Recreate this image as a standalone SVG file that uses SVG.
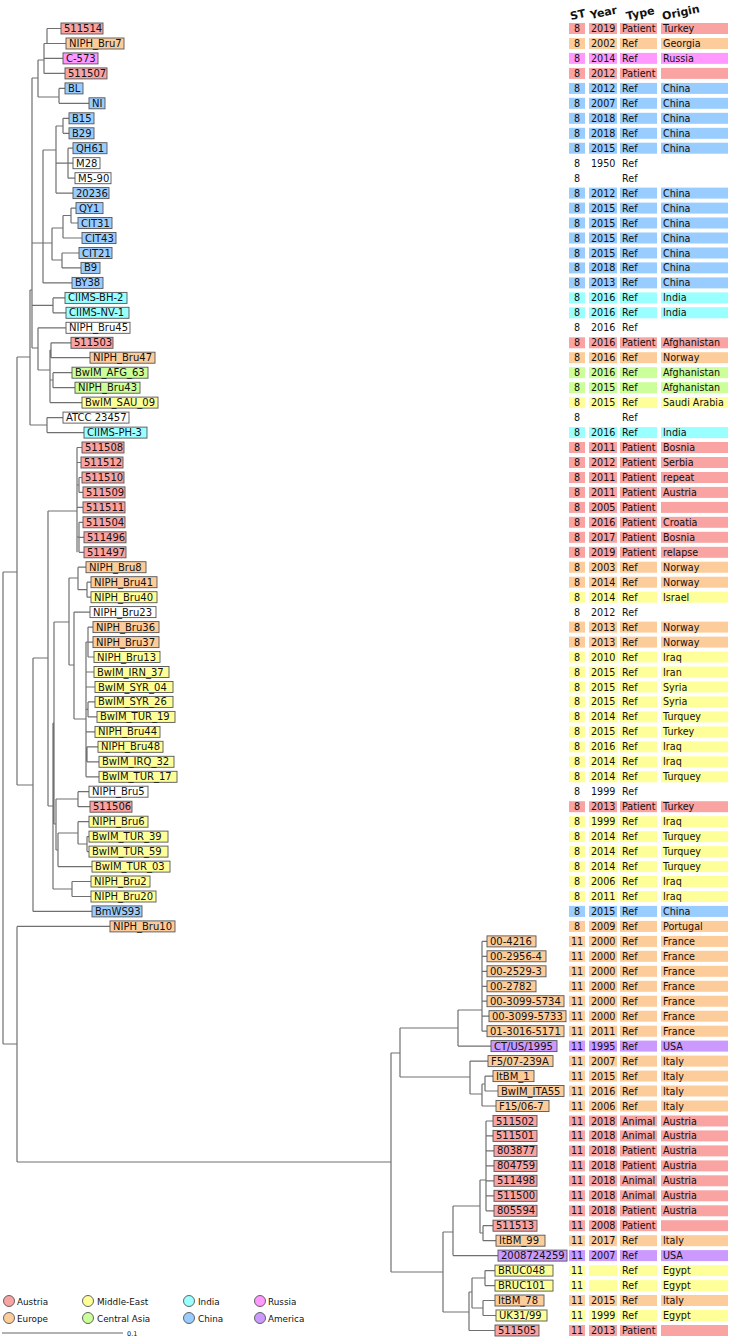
<svg xmlns="http://www.w3.org/2000/svg" xmlns:xlink="http://www.w3.org/1999/xlink" width="730" height="1339" viewBox="0 0 730 1339">
<style>
text{font-family:"DejaVu Sans","Liberation Sans",sans-serif;fill:#111}
.lb text{font-size:10px}
.lb rect{stroke:#555;stroke-width:0.9}
.tb text{font-size:9.6px}
.st{text-anchor:middle}
.au{fill:#f9a3a3}.eu{fill:#fdcc9b}.me{fill:#ffff99}.ca{fill:#ccff99}.in{fill:#99ffff}.cn{fill:#99ccff}.ru{fill:#ff99ff}.am{fill:#cc99ff}.wh{fill:#ffffff}
#connectors path{fill:none;stroke:#707070;stroke-width:1.2}
.hd text{font-size:11px;font-weight:bold}
.lg text{font-size:8.8px}
.lg circle{stroke:#555;stroke-width:0.9}
</style>
<defs>
<g id="cells"><rect x="569" y="-5.5" width="16" height="11"/><rect x="589" y="-5.5" width="28" height="11"/><rect x="620" y="-5.5" width="37" height="11"/><rect x="661" y="-5.5" width="67" height="11"/></g>
</defs>
<rect width="730" height="1339" fill="#fff"/>
<g id="connectors">
<path d="M3,572V1044M3,572H17M3,1044H17M17,357V785M17,357H30M17,785H33M17,926.4V1162M17,926.4H110M17,1162H391M30,290V425M30,290H32M30,425H47M32,78V348M32,78H38M32,243H43M32,305.4H53M32,348H38M38,60V97M38,60H44M38,97H59M44,43.5V73.4M44,43.5H66M44,58.4H63M44,73.4H65M47,28.5V43.5M47,28.5H61M59,88.4V103.3M59,88.4H65M59,103.3H89M43,150V282.9M43,150H56M43,243H52M43,282.9H72M56,126V193.1M56,126H63M56,163.2H68M56,193.1H73M63,118.3V133.3M63,118.3H69M63,133.3H69M68,148.2V178.2M68,148.2H73M68,163.2H73M68,178.2H75M52,228V260M52,228H63M52,260H62M63,215.5V238M63,215.5H71M63,238H82M71,208.1V223M71,208.1H76M71,223H78M62,253V267.9M62,253H79M62,267.9H81M53,297.9V312.8M53,297.9H65M53,312.8H66M38,327.8V370M38,327.8H66M38,370H50M50,350V402.6M50,350H51M50,380H53M50,402.6H82M51,342.8V357.7M51,342.8H71M51,357.7H90M53,372.7V387.7M53,372.7H72M53,387.7H75M47,417.6V432.6M47,417.6H63M47,432.6H84"/>
<path d="M33,658V911.4M33,658H48M33,911.4H92M48,511V806M48,511H77M48,806H53M77,447.5V552.3M77,447.5H82M77,462.5H81M77,485H79M77,507.4H83M77,537H79M79,477.5V492.4M79,477.5H82M79,492.4H83M79,522.3V552.3M79,522.3H83M79,537.3H84M79,552.3H84M53,723V889M53,723H54M53,889H72M72,881.5V896.5M72,881.5H91M72,896.5H91M54,622V824M54,622H69M54,824H56M56,799V850M56,799H78M56,850H58M78,791.7V806.7M78,791.7H89M78,806.7H90M58,833V866.6M58,833H78M58,866.6H92M78,821.7V844M78,821.7H89M78,844H87M87,836.6V851.6M87,836.6H89M87,851.6H89M69,578V665M69,578H78M69,665H74M78,567.2V589.7M78,567.2H86M78,589.7H87M87,582.2V597.2M87,582.2H91M87,597.2H91M74,612.1V719M74,612.1H90M74,719H86M86,642V776.8M86,642H88M86,672H94M86,687H95M86,709.4H88M86,731.9H95M86,754.3H87M86,776.8H99M88,627.1V657M88,627.1H93M88,642.1H93M88,657H94M88,701.9V716.9M88,701.9H95M88,716.9H97M87,746.8V761.8M87,746.8H98M87,761.8H99"/>
<path d="M391,1053V1272M391,1053H400M391,1272H443M400,1028V1077M400,1028H458M400,1077H470M458,1010V1046.1M458,1010H482M458,1046.1H491M482,941.4V1031.2M482,941.4H487M482,956.3H487M482,971.3H487M482,986.3H487M482,1001.2H487M482,1016.2H489M482,1031.2H487M470,1061.1V1094M470,1061.1H488M470,1094H482M482,1084V1106M482,1084H485M482,1106H496M485,1076.1V1091M485,1076.1H493M485,1091H498M443,1232V1312M443,1232H453M443,1312H469M453,1206V1255.6M453,1206H480M453,1255.6H498M480,1180V1233M480,1180H486M480,1233H483M486,1121V1210.8M486,1121H493M486,1135.9H493M486,1150.9H494M486,1165.9H494M486,1180.8H494M486,1195.8H494M486,1210.8H494M483,1225.7V1240.7M483,1225.7H493M483,1240.7H496M469,1292V1330.5M469,1292H472M469,1330.5H495M472,1278V1308M472,1278H485M472,1308H483M485,1270.6V1285.6M485,1270.6H495M485,1285.6H495M483,1300.5V1315.5M483,1300.5H495M483,1315.5H496"/>
</g>
<g class="lb">
<g id="n1"><rect class="au" x="61" y="23" width="42" height="11"/><text x="64" y="32">511514</text></g>
<g id="n2"><rect class="eu" x="66" y="38" width="58" height="11"/><text x="69" y="47">NIPH_Bru7</text></g>
<g id="n3"><rect class="ru" x="63" y="52.9" width="35" height="11"/><text x="66" y="61.9">C-573</text></g>
<g id="n4"><rect class="au" x="65" y="67.9" width="42" height="11"/><text x="68" y="76.9">511507</text></g>
<g id="n5"><rect class="cn" x="65" y="82.9" width="18" height="11"/><text x="68" y="91.9">BL</text></g>
<g id="n6"><rect class="cn" x="89" y="97.8" width="16" height="11"/><text x="92" y="106.8">NI</text></g>
<g id="n7"><rect class="cn" x="69" y="112.8" width="25" height="11"/><text x="72" y="121.8">B15</text></g>
<g id="n8"><rect class="cn" x="69" y="127.8" width="25" height="11"/><text x="72" y="136.8">B29</text></g>
<g id="n9"><rect class="cn" x="73" y="142.7" width="34" height="11"/><text x="76" y="151.7">QH61</text></g>
<g id="n10"><rect class="wh" x="73" y="157.7" width="27" height="11"/><text x="76" y="166.7">M28</text></g>
<g id="n11"><rect class="wh" x="75" y="172.7" width="36" height="11"/><text x="78" y="181.7">M5-90</text></g>
<g id="n12"><rect class="cn" x="73" y="187.6" width="36" height="11"/><text x="76" y="196.6">20236</text></g>
<g id="n13"><rect class="cn" x="76" y="202.6" width="27" height="11"/><text x="79" y="211.6">QY1</text></g>
<g id="n14"><rect class="cn" x="78" y="217.5" width="34" height="11"/><text x="81" y="226.5">CIT31</text></g>
<g id="n15"><rect class="cn" x="82" y="232.5" width="34" height="11"/><text x="85" y="241.5">CIT43</text></g>
<g id="n16"><rect class="cn" x="79" y="247.5" width="33" height="11"/><text x="82" y="256.5">CIT21</text></g>
<g id="n17"><rect class="cn" x="81" y="262.4" width="19" height="11"/><text x="84" y="271.4">B9</text></g>
<g id="n18"><rect class="cn" x="72" y="277.4" width="31" height="11"/><text x="75" y="286.4">BY38</text></g>
<g id="n19"><rect class="in" x="65" y="292.4" width="62" height="11"/><text x="68" y="301.4">CIIMS-BH-2</text></g>
<g id="n20"><rect class="in" x="66" y="307.3" width="63" height="11"/><text x="69" y="316.3">CIIMS-NV-1</text></g>
<g id="n21"><rect class="wh" x="66" y="322.3" width="64" height="11"/><text x="69" y="331.3">NIPH_Bru45</text></g>
<g id="n22"><rect class="au" x="71" y="337.3" width="42" height="11"/><text x="74" y="346.3">511503</text></g>
<g id="n23"><rect class="eu" x="90" y="352.2" width="65" height="11"/><text x="93" y="361.2">NIPH_Bru47</text></g>
<g id="n24"><rect class="ca" x="72" y="367.2" width="76" height="11"/><text x="75" y="376.2">BwIM_AFG_63</text></g>
<g id="n25"><rect class="ca" x="75" y="382.2" width="65" height="11"/><text x="78" y="391.2">NIPH_Bru43</text></g>
<g id="n26"><rect class="me" x="82" y="397.1" width="76" height="11"/><text x="85" y="406.1">BwIM_SAU_09</text></g>
<g id="n27"><rect class="wh" x="63" y="412.1" width="66" height="11"/><text x="66" y="421.1">ATCC 23457</text></g>
<g id="n28"><rect class="in" x="84" y="427.1" width="63" height="11"/><text x="87" y="436.1">CIIMS-PH-3</text></g>
<g id="n29"><rect class="au" x="82" y="442" width="42" height="11"/><text x="85" y="451">511508</text></g>
<g id="n30"><rect class="au" x="81" y="457" width="42" height="11"/><text x="84" y="466">511512</text></g>
<g id="n31"><rect class="au" x="82" y="472" width="42" height="11"/><text x="85" y="481">511510</text></g>
<g id="n32"><rect class="au" x="83" y="486.9" width="42" height="11"/><text x="86" y="495.9">511509</text></g>
<g id="n33"><rect class="au" x="83" y="501.9" width="42" height="11"/><text x="86" y="510.9">511511</text></g>
<g id="n34"><rect class="au" x="83" y="516.8" width="42" height="11"/><text x="86" y="525.8">511504</text></g>
<g id="n35"><rect class="au" x="84" y="531.8" width="42" height="11"/><text x="87" y="540.8">511496</text></g>
<g id="n36"><rect class="au" x="84" y="546.8" width="42" height="11"/><text x="87" y="555.8">511497</text></g>
<g id="n37"><rect class="eu" x="86" y="561.7" width="60" height="11"/><text x="89" y="570.7">NIPH_Bru8</text></g>
<g id="n38"><rect class="eu" x="91" y="576.7" width="66" height="11"/><text x="94" y="585.7">NIPH_Bru41</text></g>
<g id="n39"><rect class="me" x="91" y="591.7" width="66" height="11"/><text x="94" y="600.7">NIPH_Bru40</text></g>
<g id="n40"><rect class="wh" x="90" y="606.6" width="66" height="11"/><text x="93" y="615.6">NIPH_Bru23</text></g>
<g id="n41"><rect class="eu" x="93" y="621.6" width="66" height="11"/><text x="96" y="630.6">NIPH_Bru36</text></g>
<g id="n42"><rect class="eu" x="93" y="636.6" width="66" height="11"/><text x="96" y="645.6">NIPH_Bru37</text></g>
<g id="n43"><rect class="me" x="94" y="651.5" width="66" height="11"/><text x="97" y="660.5">NIPH_Bru13</text></g>
<g id="n44"><rect class="me" x="94" y="666.5" width="75" height="11"/><text x="97" y="675.5">BwIM_IRN_37</text></g>
<g id="n45"><rect class="me" x="95" y="681.5" width="78" height="11"/><text x="98" y="690.5">BwIM_SYR_04</text></g>
<g id="n46"><rect class="me" x="95" y="696.4" width="78" height="11"/><text x="98" y="705.4">BwIM_SYR_26</text></g>
<g id="n47"><rect class="me" x="97" y="711.4" width="78" height="11"/><text x="100" y="720.4">BwIM_TUR_19</text></g>
<g id="n48"><rect class="me" x="95" y="726.4" width="65" height="11"/><text x="98" y="735.4">NIPH_Bru44</text></g>
<g id="n49"><rect class="me" x="98" y="741.3" width="65" height="11"/><text x="101" y="750.3">NIPH_Bru48</text></g>
<g id="n50"><rect class="me" x="99" y="756.3" width="75" height="11"/><text x="102" y="765.3">BwIM_IRQ_32</text></g>
<g id="n51"><rect class="me" x="99" y="771.3" width="78" height="11"/><text x="102" y="780.3">BwIM_TUR_17</text></g>
<g id="n52"><rect class="wh" x="89" y="786.2" width="59" height="11"/><text x="92" y="795.2">NIPH_Bru5</text></g>
<g id="n53"><rect class="au" x="90" y="801.2" width="42" height="11"/><text x="93" y="810.2">511506</text></g>
<g id="n54"><rect class="me" x="89" y="816.2" width="59" height="11"/><text x="92" y="825.2">NIPH_Bru6</text></g>
<g id="n55"><rect class="me" x="89" y="831.1" width="79" height="11"/><text x="92" y="840.1">BwIM_TUR_39</text></g>
<g id="n56"><rect class="me" x="89" y="846.1" width="79" height="11"/><text x="92" y="855.1">BwIM_TUR_59</text></g>
<g id="n57"><rect class="me" x="92" y="861.1" width="78" height="11"/><text x="95" y="870.1">BwIM_TUR_03</text></g>
<g id="n58"><rect class="me" x="91" y="876" width="59" height="11"/><text x="94" y="885">NIPH_Bru2</text></g>
<g id="n59"><rect class="me" x="91" y="891" width="65" height="11"/><text x="94" y="900">NIPH_Bru20</text></g>
<g id="n60"><rect class="cn" x="92" y="905.9" width="50" height="11"/><text x="95" y="914.9">BmWS93</text></g>
<g id="n61"><rect class="eu" x="110" y="920.9" width="65" height="11"/><text x="113" y="929.9">NIPH_Bru10</text></g>
<g id="n62"><rect class="eu" x="487" y="935.9" width="49" height="11"/><text x="490" y="944.9">00-4216</text></g>
<g id="n63"><rect class="eu" x="487" y="950.8" width="59" height="11"/><text x="490" y="959.8">00-2956-4</text></g>
<g id="n64"><rect class="eu" x="487" y="965.8" width="59" height="11"/><text x="490" y="974.8">00-2529-3</text></g>
<g id="n65"><rect class="eu" x="487" y="980.8" width="49" height="11"/><text x="490" y="989.8">00-2782</text></g>
<g id="n66"><rect class="eu" x="487" y="995.7" width="77" height="11"/><text x="490" y="1004.7">00-3099-5734</text></g>
<g id="n67"><rect class="eu" x="489" y="1010.7" width="77" height="11"/><text x="492" y="1019.7">00-3099-5733</text></g>
<g id="n68"><rect class="eu" x="487" y="1025.7" width="77" height="11"/><text x="490" y="1034.7">01-3016-5171</text></g>
<g id="n69"><rect class="am" x="491" y="1040.6" width="66" height="11"/><text x="494" y="1049.6">CT/US/1995</text></g>
<g id="n70"><rect class="eu" x="488" y="1055.6" width="65" height="11"/><text x="491" y="1064.6">F5/07-239A</text></g>
<g id="n71"><rect class="eu" x="493" y="1070.6" width="41" height="11"/><text x="496" y="1079.6">ItBM_1</text></g>
<g id="n72"><rect class="eu" x="498" y="1085.5" width="66" height="11"/><text x="501" y="1094.5">BwIM_ITA55</text></g>
<g id="n73"><rect class="eu" x="496" y="1100.5" width="53" height="11"/><text x="499" y="1109.5">F15/06-7</text></g>
<g id="n74"><rect class="au" x="493" y="1115.5" width="44" height="11"/><text x="496" y="1124.5">511502</text></g>
<g id="n75"><rect class="au" x="493" y="1130.4" width="44" height="11"/><text x="496" y="1139.4">511501</text></g>
<g id="n76"><rect class="au" x="494" y="1145.4" width="43" height="11"/><text x="497" y="1154.4">803877</text></g>
<g id="n77"><rect class="au" x="494" y="1160.4" width="43" height="11"/><text x="497" y="1169.4">804759</text></g>
<g id="n78"><rect class="au" x="494" y="1175.3" width="43" height="11"/><text x="497" y="1184.3">511498</text></g>
<g id="n79"><rect class="au" x="494" y="1190.3" width="43" height="11"/><text x="497" y="1199.3">511500</text></g>
<g id="n80"><rect class="au" x="494" y="1205.3" width="43" height="11"/><text x="497" y="1214.3">805594</text></g>
<g id="n81"><rect class="au" x="493" y="1220.2" width="44" height="11"/><text x="496" y="1229.2">511513</text></g>
<g id="n82"><rect class="eu" x="496" y="1235.2" width="49" height="11"/><text x="499" y="1244.2">ItBM_99</text></g>
<g id="n83"><rect class="am" x="498" y="1250.1" width="69" height="11"/><text x="501" y="1259.1">2008724259</text></g>
<g id="n84"><rect class="me" x="495" y="1265.1" width="58" height="11"/><text x="498" y="1274.1">BRUC048</text></g>
<g id="n85"><rect class="me" x="495" y="1280.1" width="58" height="11"/><text x="498" y="1289.1">BRUC101</text></g>
<g id="n86"><rect class="eu" x="495" y="1295" width="49" height="11"/><text x="498" y="1304">ItBM_78</text></g>
<g id="n87"><rect class="me" x="496" y="1310" width="51" height="11"/><text x="499" y="1319">UK31/99</text></g>
<g id="n88"><rect class="au" x="495" y="1325" width="44" height="11"/><text x="498" y="1334">511505</text></g>
</g>
<g class="hd" id="header">
<text transform="translate(571,20) rotate(-12)">ST</text>
<text transform="translate(591,19) rotate(-12)">Year</text>
<text transform="translate(627,20) rotate(-12)">Type</text>
<text transform="translate(663,20) rotate(-12)">Origin</text>
</g>
<g class="tb" id="table">
<use href="#cells" y="28.5" class="au"/><text class="st" x="577" y="32">8</text><text y="32"><tspan x="591">2019</tspan><tspan x="622">Patient</tspan><tspan x="663">Turkey</tspan></text>
<use href="#cells" y="43.5" class="eu"/><text class="st" x="577" y="47">8</text><text y="47"><tspan x="591">2002</tspan><tspan x="622">Ref</tspan><tspan x="663">Georgia</tspan></text>
<use href="#cells" y="58.4" class="ru"/><text class="st" x="577" y="61.9">8</text><text y="61.9"><tspan x="591">2014</tspan><tspan x="622">Ref</tspan><tspan x="663">Russia</tspan></text>
<use href="#cells" y="73.4" class="au"/><text class="st" x="577" y="76.9">8</text><text y="76.9"><tspan x="591">2012</tspan><tspan x="622">Patient</tspan></text>
<use href="#cells" y="88.4" class="cn"/><text class="st" x="577" y="91.9">8</text><text y="91.9"><tspan x="591">2012</tspan><tspan x="622">Ref</tspan><tspan x="663">China</tspan></text>
<use href="#cells" y="103.3" class="cn"/><text class="st" x="577" y="106.8">8</text><text y="106.8"><tspan x="591">2007</tspan><tspan x="622">Ref</tspan><tspan x="663">China</tspan></text>
<use href="#cells" y="118.3" class="cn"/><text class="st" x="577" y="121.8">8</text><text y="121.8"><tspan x="591">2018</tspan><tspan x="622">Ref</tspan><tspan x="663">China</tspan></text>
<use href="#cells" y="133.3" class="cn"/><text class="st" x="577" y="136.8">8</text><text y="136.8"><tspan x="591">2018</tspan><tspan x="622">Ref</tspan><tspan x="663">China</tspan></text>
<use href="#cells" y="148.2" class="cn"/><text class="st" x="577" y="151.7">8</text><text y="151.7"><tspan x="591">2015</tspan><tspan x="622">Ref</tspan><tspan x="663">China</tspan></text>
<text class="st" x="577" y="166.7">8</text><text y="166.7"><tspan x="591">1950</tspan><tspan x="622">Ref</tspan></text>
<text class="st" x="577" y="181.7">8</text><text y="181.7"><tspan x="622">Ref</tspan></text>
<use href="#cells" y="193.1" class="cn"/><text class="st" x="577" y="196.6">8</text><text y="196.6"><tspan x="591">2012</tspan><tspan x="622">Ref</tspan><tspan x="663">China</tspan></text>
<use href="#cells" y="208.1" class="cn"/><text class="st" x="577" y="211.6">8</text><text y="211.6"><tspan x="591">2015</tspan><tspan x="622">Ref</tspan><tspan x="663">China</tspan></text>
<use href="#cells" y="223" class="cn"/><text class="st" x="577" y="226.5">8</text><text y="226.5"><tspan x="591">2015</tspan><tspan x="622">Ref</tspan><tspan x="663">China</tspan></text>
<use href="#cells" y="238" class="cn"/><text class="st" x="577" y="241.5">8</text><text y="241.5"><tspan x="591">2015</tspan><tspan x="622">Ref</tspan><tspan x="663">China</tspan></text>
<use href="#cells" y="253" class="cn"/><text class="st" x="577" y="256.5">8</text><text y="256.5"><tspan x="591">2015</tspan><tspan x="622">Ref</tspan><tspan x="663">China</tspan></text>
<use href="#cells" y="267.9" class="cn"/><text class="st" x="577" y="271.4">8</text><text y="271.4"><tspan x="591">2018</tspan><tspan x="622">Ref</tspan><tspan x="663">China</tspan></text>
<use href="#cells" y="282.9" class="cn"/><text class="st" x="577" y="286.4">8</text><text y="286.4"><tspan x="591">2013</tspan><tspan x="622">Ref</tspan><tspan x="663">China</tspan></text>
<use href="#cells" y="297.9" class="in"/><text class="st" x="577" y="301.4">8</text><text y="301.4"><tspan x="591">2016</tspan><tspan x="622">Ref</tspan><tspan x="663">India</tspan></text>
<use href="#cells" y="312.8" class="in"/><text class="st" x="577" y="316.3">8</text><text y="316.3"><tspan x="591">2016</tspan><tspan x="622">Ref</tspan><tspan x="663">India</tspan></text>
<text class="st" x="577" y="331.3">8</text><text y="331.3"><tspan x="591">2016</tspan><tspan x="622">Ref</tspan></text>
<use href="#cells" y="342.8" class="au"/><text class="st" x="577" y="346.3">8</text><text y="346.3"><tspan x="591">2016</tspan><tspan x="622">Patient</tspan><tspan x="663">Afghanistan</tspan></text>
<use href="#cells" y="357.7" class="eu"/><text class="st" x="577" y="361.2">8</text><text y="361.2"><tspan x="591">2016</tspan><tspan x="622">Ref</tspan><tspan x="663">Norway</tspan></text>
<use href="#cells" y="372.7" class="ca"/><text class="st" x="577" y="376.2">8</text><text y="376.2"><tspan x="591">2016</tspan><tspan x="622">Ref</tspan><tspan x="663">Afghanistan</tspan></text>
<use href="#cells" y="387.7" class="ca"/><text class="st" x="577" y="391.2">8</text><text y="391.2"><tspan x="591">2015</tspan><tspan x="622">Ref</tspan><tspan x="663">Afghanistan</tspan></text>
<use href="#cells" y="402.6" class="me"/><text class="st" x="577" y="406.1">8</text><text y="406.1"><tspan x="591">2015</tspan><tspan x="622">Ref</tspan><tspan x="663">Saudi Arabia</tspan></text>
<text class="st" x="577" y="421.1">8</text><text y="421.1"><tspan x="622">Ref</tspan></text>
<use href="#cells" y="432.6" class="in"/><text class="st" x="577" y="436.1">8</text><text y="436.1"><tspan x="591">2016</tspan><tspan x="622">Ref</tspan><tspan x="663">India</tspan></text>
<use href="#cells" y="447.5" class="au"/><text class="st" x="577" y="451">8</text><text y="451"><tspan x="591">2011</tspan><tspan x="622">Patient</tspan><tspan x="663">Bosnia</tspan></text>
<use href="#cells" y="462.5" class="au"/><text class="st" x="577" y="466">8</text><text y="466"><tspan x="591">2012</tspan><tspan x="622">Patient</tspan><tspan x="663">Serbia</tspan></text>
<use href="#cells" y="477.5" class="au"/><text class="st" x="577" y="481">8</text><text y="481"><tspan x="591">2011</tspan><tspan x="622">Patient</tspan><tspan x="663">repeat</tspan></text>
<use href="#cells" y="492.4" class="au"/><text class="st" x="577" y="495.9">8</text><text y="495.9"><tspan x="591">2011</tspan><tspan x="622">Patient</tspan><tspan x="663">Austria</tspan></text>
<use href="#cells" y="507.4" class="au"/><text class="st" x="577" y="510.9">8</text><text y="510.9"><tspan x="591">2005</tspan><tspan x="622">Patient</tspan></text>
<use href="#cells" y="522.3" class="au"/><text class="st" x="577" y="525.8">8</text><text y="525.8"><tspan x="591">2016</tspan><tspan x="622">Patient</tspan><tspan x="663">Croatia</tspan></text>
<use href="#cells" y="537.3" class="au"/><text class="st" x="577" y="540.8">8</text><text y="540.8"><tspan x="591">2017</tspan><tspan x="622">Patient</tspan><tspan x="663">Bosnia</tspan></text>
<use href="#cells" y="552.3" class="au"/><text class="st" x="577" y="555.8">8</text><text y="555.8"><tspan x="591">2019</tspan><tspan x="622">Patient</tspan><tspan x="663">relapse</tspan></text>
<use href="#cells" y="567.2" class="eu"/><text class="st" x="577" y="570.7">8</text><text y="570.7"><tspan x="591">2003</tspan><tspan x="622">Ref</tspan><tspan x="663">Norway</tspan></text>
<use href="#cells" y="582.2" class="eu"/><text class="st" x="577" y="585.7">8</text><text y="585.7"><tspan x="591">2014</tspan><tspan x="622">Ref</tspan><tspan x="663">Norway</tspan></text>
<use href="#cells" y="597.2" class="me"/><text class="st" x="577" y="600.7">8</text><text y="600.7"><tspan x="591">2014</tspan><tspan x="622">Ref</tspan><tspan x="663">Israel</tspan></text>
<text class="st" x="577" y="615.6">8</text><text y="615.6"><tspan x="591">2012</tspan><tspan x="622">Ref</tspan></text>
<use href="#cells" y="627.1" class="eu"/><text class="st" x="577" y="630.6">8</text><text y="630.6"><tspan x="591">2013</tspan><tspan x="622">Ref</tspan><tspan x="663">Norway</tspan></text>
<use href="#cells" y="642.1" class="eu"/><text class="st" x="577" y="645.6">8</text><text y="645.6"><tspan x="591">2013</tspan><tspan x="622">Ref</tspan><tspan x="663">Norway</tspan></text>
<use href="#cells" y="657" class="me"/><text class="st" x="577" y="660.5">8</text><text y="660.5"><tspan x="591">2010</tspan><tspan x="622">Ref</tspan><tspan x="663">Iraq</tspan></text>
<use href="#cells" y="672" class="me"/><text class="st" x="577" y="675.5">8</text><text y="675.5"><tspan x="591">2015</tspan><tspan x="622">Ref</tspan><tspan x="663">Iran</tspan></text>
<use href="#cells" y="687" class="me"/><text class="st" x="577" y="690.5">8</text><text y="690.5"><tspan x="591">2015</tspan><tspan x="622">Ref</tspan><tspan x="663">Syria</tspan></text>
<use href="#cells" y="701.9" class="me"/><text class="st" x="577" y="705.4">8</text><text y="705.4"><tspan x="591">2015</tspan><tspan x="622">Ref</tspan><tspan x="663">Syria</tspan></text>
<use href="#cells" y="716.9" class="me"/><text class="st" x="577" y="720.4">8</text><text y="720.4"><tspan x="591">2014</tspan><tspan x="622">Ref</tspan><tspan x="663">Turquey</tspan></text>
<use href="#cells" y="731.9" class="me"/><text class="st" x="577" y="735.4">8</text><text y="735.4"><tspan x="591">2015</tspan><tspan x="622">Ref</tspan><tspan x="663">Turkey</tspan></text>
<use href="#cells" y="746.8" class="me"/><text class="st" x="577" y="750.3">8</text><text y="750.3"><tspan x="591">2016</tspan><tspan x="622">Ref</tspan><tspan x="663">Iraq</tspan></text>
<use href="#cells" y="761.8" class="me"/><text class="st" x="577" y="765.3">8</text><text y="765.3"><tspan x="591">2014</tspan><tspan x="622">Ref</tspan><tspan x="663">Iraq</tspan></text>
<use href="#cells" y="776.8" class="me"/><text class="st" x="577" y="780.3">8</text><text y="780.3"><tspan x="591">2014</tspan><tspan x="622">Ref</tspan><tspan x="663">Turquey</tspan></text>
<text class="st" x="577" y="795.2">8</text><text y="795.2"><tspan x="591">1999</tspan><tspan x="622">Ref</tspan></text>
<use href="#cells" y="806.7" class="au"/><text class="st" x="577" y="810.2">8</text><text y="810.2"><tspan x="591">2013</tspan><tspan x="622">Patient</tspan><tspan x="663">Turkey</tspan></text>
<use href="#cells" y="821.7" class="me"/><text class="st" x="577" y="825.2">8</text><text y="825.2"><tspan x="591">1999</tspan><tspan x="622">Ref</tspan><tspan x="663">Iraq</tspan></text>
<use href="#cells" y="836.6" class="me"/><text class="st" x="577" y="840.1">8</text><text y="840.1"><tspan x="591">2014</tspan><tspan x="622">Ref</tspan><tspan x="663">Turquey</tspan></text>
<use href="#cells" y="851.6" class="me"/><text class="st" x="577" y="855.1">8</text><text y="855.1"><tspan x="591">2014</tspan><tspan x="622">Ref</tspan><tspan x="663">Turquey</tspan></text>
<use href="#cells" y="866.6" class="me"/><text class="st" x="577" y="870.1">8</text><text y="870.1"><tspan x="591">2014</tspan><tspan x="622">Ref</tspan><tspan x="663">Turquey</tspan></text>
<use href="#cells" y="881.5" class="me"/><text class="st" x="577" y="885">8</text><text y="885"><tspan x="591">2006</tspan><tspan x="622">Ref</tspan><tspan x="663">Iraq</tspan></text>
<use href="#cells" y="896.5" class="me"/><text class="st" x="577" y="900">8</text><text y="900"><tspan x="591">2011</tspan><tspan x="622">Ref</tspan><tspan x="663">Iraq</tspan></text>
<use href="#cells" y="911.4" class="cn"/><text class="st" x="577" y="914.9">8</text><text y="914.9"><tspan x="591">2015</tspan><tspan x="622">Ref</tspan><tspan x="663">China</tspan></text>
<use href="#cells" y="926.4" class="eu"/><text class="st" x="577" y="929.9">8</text><text y="929.9"><tspan x="591">2009</tspan><tspan x="622">Ref</tspan><tspan x="663">Portugal</tspan></text>
<use href="#cells" y="941.4" class="eu"/><text class="st" x="577" y="944.9">11</text><text y="944.9"><tspan x="591">2000</tspan><tspan x="622">Ref</tspan><tspan x="663">France</tspan></text>
<use href="#cells" y="956.3" class="eu"/><text class="st" x="577" y="959.8">11</text><text y="959.8"><tspan x="591">2000</tspan><tspan x="622">Ref</tspan><tspan x="663">France</tspan></text>
<use href="#cells" y="971.3" class="eu"/><text class="st" x="577" y="974.8">11</text><text y="974.8"><tspan x="591">2000</tspan><tspan x="622">Ref</tspan><tspan x="663">France</tspan></text>
<use href="#cells" y="986.3" class="eu"/><text class="st" x="577" y="989.8">11</text><text y="989.8"><tspan x="591">2000</tspan><tspan x="622">Ref</tspan><tspan x="663">France</tspan></text>
<use href="#cells" y="1001.2" class="eu"/><text class="st" x="577" y="1004.7">11</text><text y="1004.7"><tspan x="591">2000</tspan><tspan x="622">Ref</tspan><tspan x="663">France</tspan></text>
<use href="#cells" y="1016.2" class="eu"/><text class="st" x="577" y="1019.7">11</text><text y="1019.7"><tspan x="591">2000</tspan><tspan x="622">Ref</tspan><tspan x="663">France</tspan></text>
<use href="#cells" y="1031.2" class="eu"/><text class="st" x="577" y="1034.7">11</text><text y="1034.7"><tspan x="591">2011</tspan><tspan x="622">Ref</tspan><tspan x="663">France</tspan></text>
<use href="#cells" y="1046.1" class="am"/><text class="st" x="577" y="1049.6">11</text><text y="1049.6"><tspan x="591">1995</tspan><tspan x="622">Ref</tspan><tspan x="663">USA</tspan></text>
<use href="#cells" y="1061.1" class="eu"/><text class="st" x="577" y="1064.6">11</text><text y="1064.6"><tspan x="591">2007</tspan><tspan x="622">Ref</tspan><tspan x="663">Italy</tspan></text>
<use href="#cells" y="1076.1" class="eu"/><text class="st" x="577" y="1079.6">11</text><text y="1079.6"><tspan x="591">2015</tspan><tspan x="622">Ref</tspan><tspan x="663">Italy</tspan></text>
<use href="#cells" y="1091" class="eu"/><text class="st" x="577" y="1094.5">11</text><text y="1094.5"><tspan x="591">2016</tspan><tspan x="622">Ref</tspan><tspan x="663">Italy</tspan></text>
<use href="#cells" y="1106" class="eu"/><text class="st" x="577" y="1109.5">11</text><text y="1109.5"><tspan x="591">2006</tspan><tspan x="622">Ref</tspan><tspan x="663">Italy</tspan></text>
<use href="#cells" y="1121" class="au"/><text class="st" x="577" y="1124.5">11</text><text y="1124.5"><tspan x="591">2018</tspan><tspan x="622">Animal</tspan><tspan x="663">Austria</tspan></text>
<use href="#cells" y="1135.9" class="au"/><text class="st" x="577" y="1139.4">11</text><text y="1139.4"><tspan x="591">2018</tspan><tspan x="622">Animal</tspan><tspan x="663">Austria</tspan></text>
<use href="#cells" y="1150.9" class="au"/><text class="st" x="577" y="1154.4">11</text><text y="1154.4"><tspan x="591">2018</tspan><tspan x="622">Patient</tspan><tspan x="663">Austria</tspan></text>
<use href="#cells" y="1165.9" class="au"/><text class="st" x="577" y="1169.4">11</text><text y="1169.4"><tspan x="591">2018</tspan><tspan x="622">Patient</tspan><tspan x="663">Austria</tspan></text>
<use href="#cells" y="1180.8" class="au"/><text class="st" x="577" y="1184.3">11</text><text y="1184.3"><tspan x="591">2018</tspan><tspan x="622">Animal</tspan><tspan x="663">Austria</tspan></text>
<use href="#cells" y="1195.8" class="au"/><text class="st" x="577" y="1199.3">11</text><text y="1199.3"><tspan x="591">2018</tspan><tspan x="622">Animal</tspan><tspan x="663">Austria</tspan></text>
<use href="#cells" y="1210.8" class="au"/><text class="st" x="577" y="1214.3">11</text><text y="1214.3"><tspan x="591">2018</tspan><tspan x="622">Patient</tspan><tspan x="663">Austria</tspan></text>
<use href="#cells" y="1225.7" class="au"/><text class="st" x="577" y="1229.2">11</text><text y="1229.2"><tspan x="591">2008</tspan><tspan x="622">Patient</tspan></text>
<use href="#cells" y="1240.7" class="eu"/><text class="st" x="577" y="1244.2">11</text><text y="1244.2"><tspan x="591">2017</tspan><tspan x="622">Ref</tspan><tspan x="663">Italy</tspan></text>
<use href="#cells" y="1255.6" class="am"/><text class="st" x="577" y="1259.1">11</text><text y="1259.1"><tspan x="591">2007</tspan><tspan x="622">Ref</tspan><tspan x="663">USA</tspan></text>
<use href="#cells" y="1270.6" class="me"/><text class="st" x="577" y="1274.1">11</text><text y="1274.1"><tspan x="622">Ref</tspan><tspan x="663">Egypt</tspan></text>
<use href="#cells" y="1285.6" class="me"/><text class="st" x="577" y="1289.1">11</text><text y="1289.1"><tspan x="622">Ref</tspan><tspan x="663">Egypt</tspan></text>
<use href="#cells" y="1300.5" class="eu"/><text class="st" x="577" y="1304">11</text><text y="1304"><tspan x="591">2015</tspan><tspan x="622">Ref</tspan><tspan x="663">Italy</tspan></text>
<use href="#cells" y="1315.5" class="me"/><text class="st" x="577" y="1319">11</text><text y="1319"><tspan x="591">1999</tspan><tspan x="622">Ref</tspan><tspan x="663">Egypt</tspan></text>
<use href="#cells" y="1330.5" class="au"/><text class="st" x="577" y="1334">11</text><text y="1334"><tspan x="591">2013</tspan><tspan x="622">Patient</tspan></text>
</g>
<g class="lg" id="legend">
<circle class="au" cx="9" cy="1301" r="5.5"/><text x="17" y="1304.5">Austria</text>
<circle class="eu" cx="9" cy="1318" r="5.5"/><text x="17" y="1321.5">Europe</text>
<circle class="me" cx="88" cy="1301" r="5.5"/><text x="97" y="1304.5">Middle-East</text>
<circle class="ca" cx="88" cy="1318" r="5.5"/><text x="97" y="1321.5">Central Asia</text>
<circle class="in" cx="189" cy="1301" r="5.5"/><text x="198" y="1304.5">India</text>
<circle class="cn" cx="189" cy="1318" r="5.5"/><text x="198" y="1321.5">China</text>
<circle class="ru" cx="260" cy="1301" r="5.5"/><text x="268" y="1304.5">Russia</text>
<circle class="am" cx="260" cy="1318" r="5.5"/><text x="268" y="1321.5">America</text>
</g>
<g id="scale">
<path d="M2,1333H123" stroke="#999" stroke-width="1.3" fill="none"/>
<text x="127" y="1335.5" font-size="6.5">0.1</text>
</g>
</svg>
